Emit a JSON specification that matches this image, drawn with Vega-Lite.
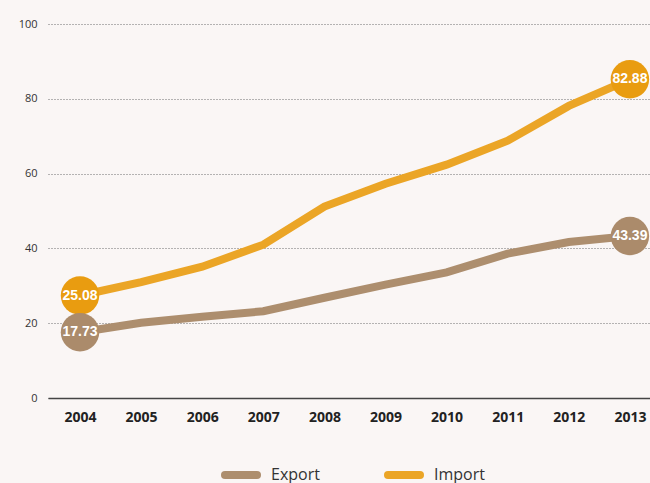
{
  "$schema": "https://vega.github.io/schema/vega-lite/v6.json",
  "width": 602,
  "height": 374,
  "autosize": "none",
  "padding": {"left": 48, "top": 24, "right": 0, "bottom": 85},
  "background": "#FAF6F5",
  "config": {
    "view": {"stroke": null},
    "font": "Open Sans"
  },
  "data": {
    "values": [
      {"year": 2004, "series": "Import", "value": 27.4, "label": "25.08"},
      {"year": 2005, "series": "Import", "value": 31.0},
      {"year": 2006, "series": "Import", "value": 35.1},
      {"year": 2007, "series": "Import", "value": 41.0},
      {"year": 2008, "series": "Import", "value": 51.2},
      {"year": 2009, "series": "Import", "value": 57.3},
      {"year": 2010, "series": "Import", "value": 62.4},
      {"year": 2011, "series": "Import", "value": 68.8},
      {"year": 2012, "series": "Import", "value": 78.1},
      {"year": 2013, "series": "Import", "value": 85.2, "label": "82.88"},
      {"year": 2004, "series": "Export", "value": 17.6, "label": "17.73"},
      {"year": 2005, "series": "Export", "value": 20.1},
      {"year": 2006, "series": "Export", "value": 21.7},
      {"year": 2007, "series": "Export", "value": 23.2},
      {"year": 2008, "series": "Export", "value": 26.8},
      {"year": 2009, "series": "Export", "value": 30.3},
      {"year": 2010, "series": "Export", "value": 33.6},
      {"year": 2011, "series": "Export", "value": 38.6},
      {"year": 2012, "series": "Export", "value": 41.7},
      {"year": 2013, "series": "Export", "value": 43.3, "label": "43.39"}
    ]
  },
  "encoding": {
    "x": {
      "field": "year",
      "type": "quantitative",
      "scale": {"domain": [2003.476, 2013.329], "nice": false, "zero": false},
      "axis": {
        "title": null,
        "values": [2004, 2005, 2006, 2007, 2008, 2009, 2010, 2011, 2012, 2013],
        "format": "d",
        "grid": false,
        "ticks": false,
        "domainColor": "#444444",
        "domainWidth": 1.5,
        "labelFont": "Open Sans",
        "labelFontWeight": "bold",
        "labelFontSize": 14,
        "labelColor": "#222222",
        "labelPadding": 12,
        "labelFlush": false
      }
    },
    "y": {
      "field": "value",
      "type": "quantitative",
      "scale": {"domain": [0, 100], "nice": false},
      "axis": {
        "title": null,
        "values": [0, 20, 40, 60, 80, 100],
        "domain": false,
        "ticks": false,
        "grid": true,
        "gridColor": "#6f6f6f",
        "gridDash": [1, 2],
        "gridWidth": 1,
        "labelFont": "Open Sans",
        "labelFontSize": 11,
        "labelColor": "#333333",
        "labelPadding": 11
      }
    }
  },
  "layer": [
    {
      "mark": {"type": "line", "strokeWidth": 8, "strokeCap": "butt", "strokeJoin": "miter"},
      "encoding": {
        "color": {
          "field": "series",
          "type": "nominal",
          "scale": {"domain": ["Export", "Import"], "range": ["#AD8E6E", "#EBA526"]},
          "legend": {
            "title": null,
            "orient": "none",
            "direction": "horizontal",
            "legendX": 173,
            "legendY": 431,
            "symbolType": "stroke",
            "symbolSize": 1024,
            "symbolStrokeWidth": 8,
            "labelFont": "Open Sans",
            "labelFontSize": 16,
            "labelColor": "#333333",
            "labelOffset": 10,
            "columnPadding": 52,
            "encode": {"symbols": {"update": {"strokeCap": {"value": "round"}}}}
          }
        }
      }
    },
    {
      "transform": [{"filter": "isValid(datum.label)"}],
      "mark": {"type": "point", "filled": true, "opacity": 1, "size": 1480, "shape": "circle"},
      "encoding": {
        "color": {
          "field": "series",
          "type": "nominal",
          "scale": {"domain": ["Export", "Import"], "range": ["#AB8B6B", "#E99C10"]},
          "legend": null
        }
      }
    },
    {
      "transform": [{"filter": "isValid(datum.label)"}],
      "mark": {
        "type": "text",
        "color": "white",
        "font": "Liberation Sans",
        "fontWeight": "bold",
        "fontSize": 14,
        "align": "center",
        "baseline": "middle"
      },
      "encoding": {"text": {"field": "label"}}
    }
  ],
  "resolve": {"scale": {"color": "independent"}}
}
